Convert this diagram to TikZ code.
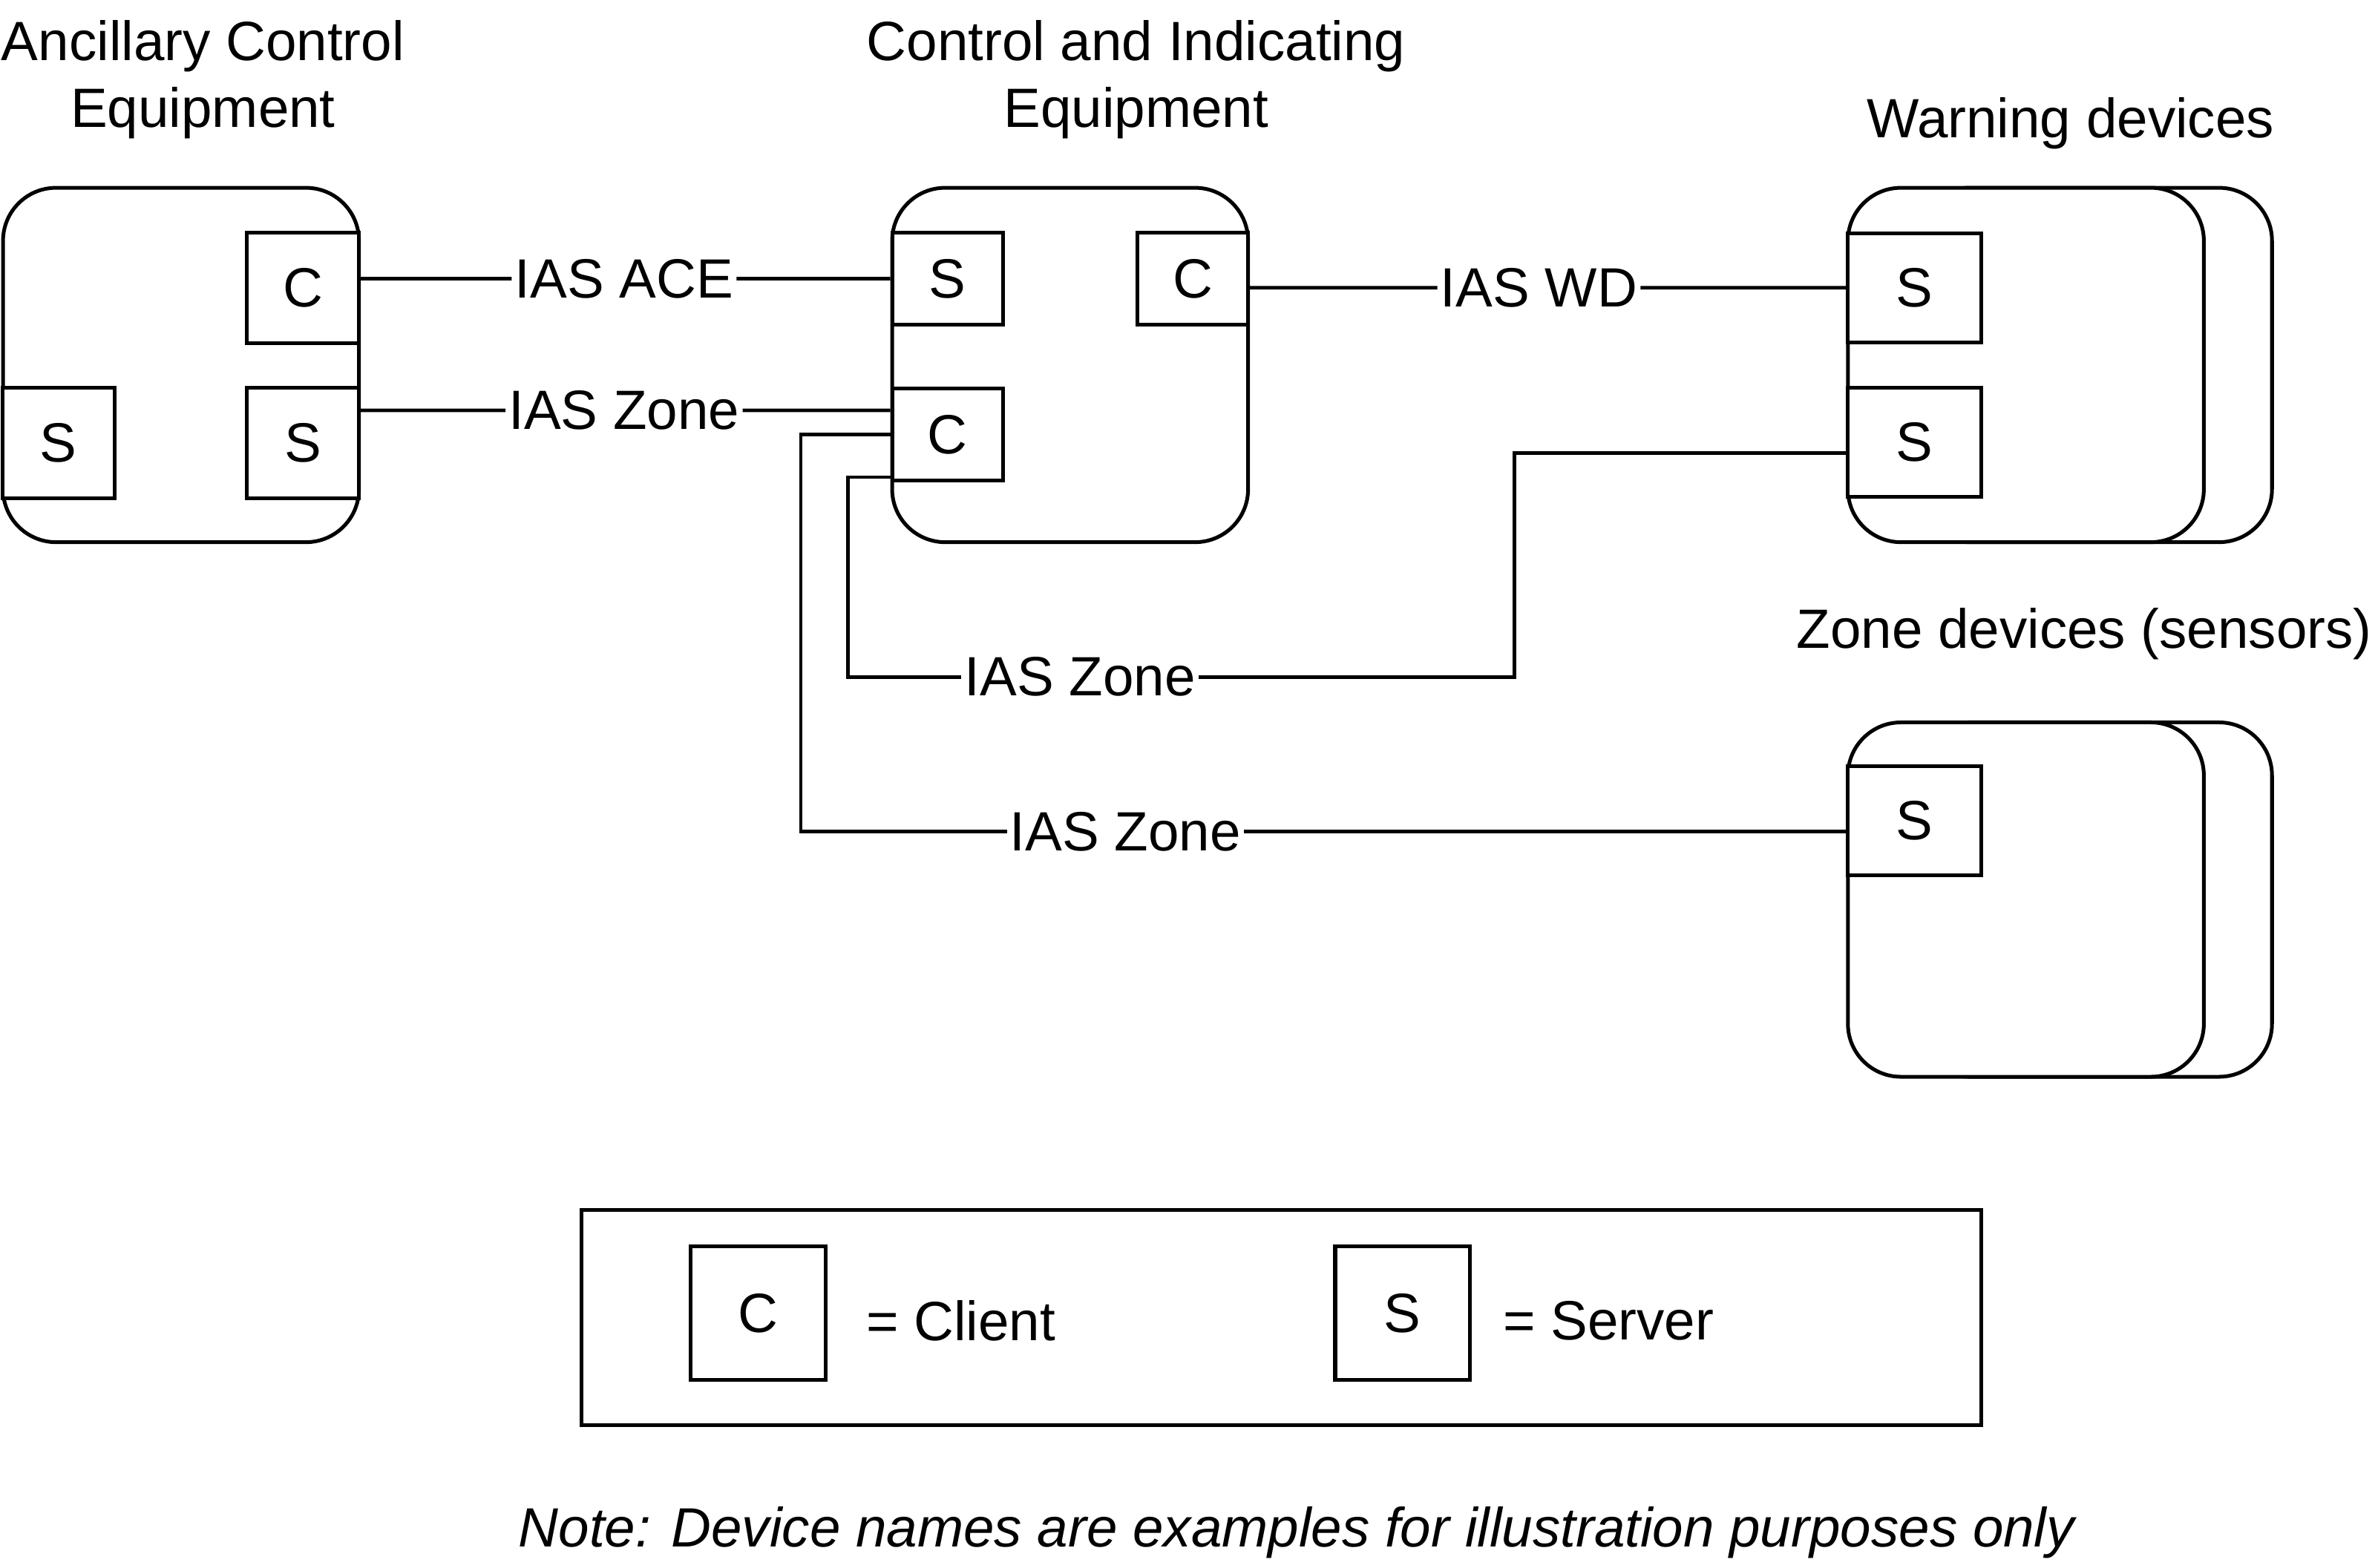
\documentclass[tikz,border=0pt]{standalone}
\usepackage{fontspec}
\setmainfont{Liberation Sans}
\usepackage{tikz}
\usetikzlibrary{positioning}
\newcommand{\widthdevice}{23.5mm}
\newcommand{\heightdevice}{23.4mm}
\tikzset{
    common/.style={draw, line width=0.7pt},
    device/.style={common, rectangle, rounded corners=3.5mm, fill=white, minimum width=\widthdevice, minimum height=\heightdevice},
    port/.style={common, rectangle, fill=white, inner sep=0pt},
    aceport/.style={port, minimum width=7.4mm, minimum height=7.3mm},
    cieport/.style={port, minimum width=7.3mm, minimum height=6.1mm},
    devport/.style={port, minimum width=8.8mm, minimum height=7.2mm},
    keyport/.style={port, minimum width=8.9mm, minimum height=8.8mm},
    link/.style={line width=0.65pt},
    linklabel/.style={inner sep=0.4pt},
    title/.style={align=center}
}

\begin{document}
\begin{tikzpicture}[x=0.1mm, y=-0.1mm, font=\fontsize{10.4}{12.5}\selectfont]
    \useasboundingbox (0,0) rectangle (1568,1035);
    % devices
    \node[device] (ace) at (119.5,241) {};
    \node[device] (cie) at (706.5,241) {};
    \node[device] (wdback) at (1382.5,241) {};
    \node[device] (wd) at (1337.5,241) {};
    \node[device] (zoneback) at (1382.5,594) {};
    \node[device] (zone) at (1337.5,594) {};
    % titles
    \node[title] (acetitle) at (134,52.5) {Ancillary Control\\Equipment};
    \node[title] (cietitle) at (750,52.5) {Control and Indicating\\Equipment};
    \node[title] (wdtitle) at (1367,81.5) {Warning devices};
    \node[title] (zonetitle) at (1376,418.5) {Zone devices (sensors)};
    % ports
    \node[aceport] (aceC) at (200,190) {C};
    \node[aceport] (aceSr) at (200,292.5) {S};
    \node[aceport] (aceSl) at (38.5,292.5) {S};
    \node[cieport] (cieS) at (625.5,184) {S};
    \node[cieport] (cieCr) at (787.5,184) {C};
    \node[cieport] (cieCl) at (625.5,287) {C};
    \node[devport] (wdSa) at (1264,190) {S};
    \node[devport] (wdSb) at (1264,292) {S};
    \node[devport] (zoneS) at (1264,542) {S};
    % link labels
    \node[linklabel] (lblace) at (412,184) {IAS ACE};
    \node[linklabel] (lblzonea) at (412,271) {IAS Zone};
    \node[linklabel] (lblwd) at (1016,190) {IAS WD};
    \node[linklabel] (lblzoneb) at (713,447) {IAS Zone};
    \node[linklabel] (lblzonec) at (743,549) {IAS Zone};
    \coordinate (bendb) at (1000,447);
    % links
    \draw[link] ([yshift=0.6mm]aceC.east) -- (lblace) -- (cieS.west);
    \draw[link] ([yshift=2.15mm]aceSr.east) -- (lblzonea) -- ([yshift=1.6mm]cieCl.west);
    \draw[link] ([yshift=-0.6mm]cieCr.east) -- (lblwd) -- (wdSa.west);
    \draw[link] ([yshift=-2.8mm]cieCl.west) -- ++(-28,0) |- (lblzoneb);
    \draw[link] (lblzoneb) -- (bendb) |- ([yshift=-0.7mm]wdSb.west);
    \draw[link] (cieCl.west) -- ++(-59,0) |- (lblzonec);
    \draw[link] (lblzonec) -- ([yshift=-0.7mm]zoneS.west);
    % legend
    \node[common, minimum width=92.4mm, minimum height=14.2mm] (legend) at (846,870) {};
    \node[keyport] (keyC) at (500.5,867) {C};
    \node[keyport] (keyS) at (926,867) {S};
    \node[right=2.5mm of keyC, inner sep=0pt, yshift=-0.5mm] (keyCtext) {= Client};
    \node[right=2mm of keyS, inner sep=0pt, yshift=-0.5mm] (keyStext) {= Server};
    \node (note) at (856,1012) {\itshape Note: Device names are examples for illustration purposes only};
\end{tikzpicture}
\end{document}
